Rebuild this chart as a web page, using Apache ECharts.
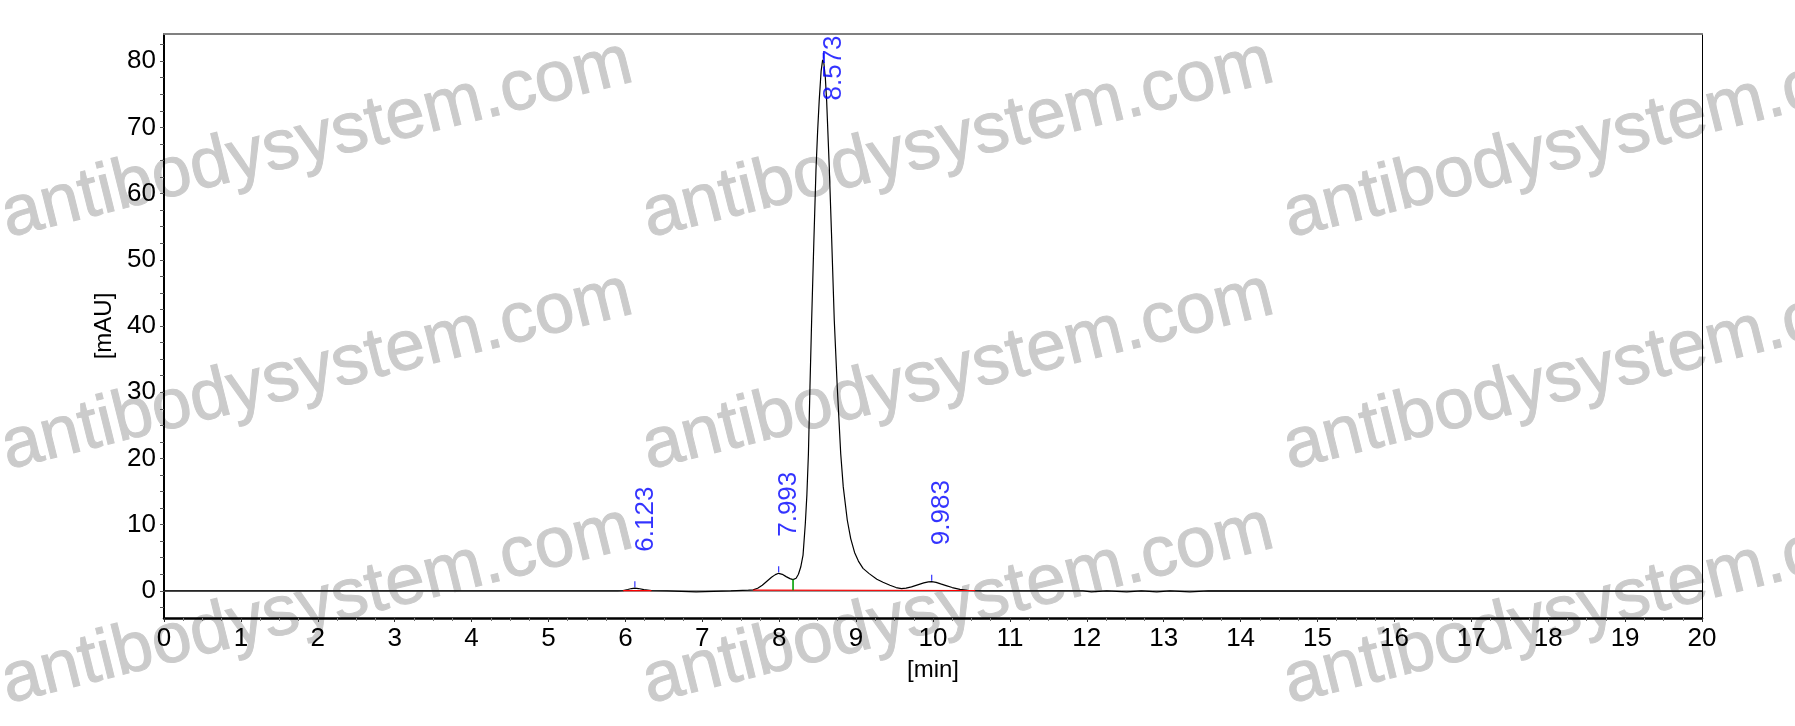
<!DOCTYPE html>
<html>
<head>
<meta charset="utf-8">
<script src="https://cdn.jsdelivr.net/npm/echarts@6/dist/echarts.min.js"></script>
<style>
html,body{margin:0;padding:0;background:#fff;}
#c{width:1795px;height:726px;}
</style>
</head>
<body>
<div id="c"></div>
<script>
// ---- data ----
const times = [
  0, 5.9, 5.97, 6.03, 6.08, 6.123, 6.17, 6.24, 6.34,
  6.54, 6.55, 6.92, 6.93, 7.37, 7.38, 7.6,
  7.66, 7.72, 7.78, 7.84, 7.9, 7.95, 7.993, 8.04, 8.09, 8.14, 8.18,
  8.22, 8.25, 8.28, 8.31, 8.34, 8.36, 8.38, 8.40, 8.422, 8.45, 8.478, 8.50, 8.52, 8.545, 8.565,
  8.58, 8.60, 8.617, 8.651, 8.68, 8.716, 8.755, 8.80, 8.833, 8.885, 8.93, 8.98, 9.03, 9.09, 9.17, 9.27, 9.35, 9.44, 9.52, 9.59,
  9.65, 9.72, 9.80, 9.88, 9.94, 9.983, 10.04, 10.1, 10.17, 10.25, 10.35, 10.45, 10.55, 10.65,
  11.95, 11.96, 12.06, 12.07, 12.26, 12.27, 12.52, 12.53, 12.71, 12.72, 12.91, 12.92, 13.08, 13.09, 13.34, 13.35, 13.58, 13.6, 20
];
const signal = [
  0, 0, 0.03, 0.2, 0.35, 0.4, 0.35, 0.18, 0.03,
  0, -0.15, -0.15, 0, 0, 0.1, 0.1,
  0.15, 0.4, 0.85, 1.45, 2.05, 2.45, 2.65, 2.5, 2.15, 1.85, 1.7,
  1.9, 2.5, 3.6, 5.4, 10.2, 14.5, 20.7, 30.8, 40.9, 52.5, 63.5, 69.5, 74, 78.5, 80.2,
  79.8, 77.5, 74, 64, 54, 40.9, 30.8, 20.7, 15.7, 10.7, 7.9, 5.8, 4.5, 3.4, 2.6, 1.75, 1.3, 0.85, 0.5, 0.35,
  0.4, 0.6, 0.9, 1.2, 1.35, 1.38, 1.28, 1.05, 0.8, 0.5, 0.22, 0.08, 0.02, 0,
  0, -0.15, -0.15, 0, 0, -0.15, -0.15, 0, 0, -0.15, -0.15, 0, 0, -0.15, -0.15, 0, 0, -0.05, -0.05
];
const peakTimes = [6.123, 7.993, 8.573, 9.983];
const peakHeights = [0.4, 2.65, 80.2, 1.38];
const peakLabels = ['6.123', '7.993', '8.573', '9.983'];
const baselineATimes = [5.97, 6.34];
const baselineAValues = [0.03, 0.03];
const baselineBTimes = [7.66, 10.55];
const baselineBValues = [0.1, 0.05];
const dropTimes = [8.18, 8.18];
const dropValues = [0.09, 1.7];
const yLabelValues = [0, 10, 20, 30, 40, 50, 60, 70, 80];
const yTickValues = [-2.5, 0, 2.5, 5, 7.5, 10, 12.5, 15, 17.5, 20, 22.5, 25, 27.5, 30, 32.5, 35, 37.5, 40,
  42.5, 45, 47.5, 50, 52.5, 55, 57.5, 60, 62.5, 65, 67.5, 70, 72.5, 75, 77.5, 80, 82.5];
const xMin = 0, xMax = 20, xStep = 1;
const yMin = -4.1, yMax = 84.1;
const xName = '[min]';
const yName = '[mAU]';
const watermarkText = 'antibodysystem.com';

// ---- chart ----
const FONT = '"Liberation Sans", Arial, sans-serif';
const chart = echarts.init(document.getElementById('c'), null, {renderer: 'canvas'});
const GRID = {left: 164, right: 93, top: 34, bottom: 108};

const pairs = (xs, ys) => xs.map((x, i) => [x, ys[i]]);

const wmCols = [317, 958, 1599];
const wmRows = [140, 372, 606];
const wmElements = [];
wmRows.forEach(y => wmCols.forEach(x => {
  wmElements.push({
    type: 'text', x: x, y: y, rotation: 14 * Math.PI / 180, z: -10, silent: true,
    style: {text: watermarkText, font: '71px ' + FONT, fill: '#cbcbcb', stroke: '#cbcbcb', lineWidth: 1,
      align: 'center', verticalAlign: 'middle'}
  });
}));

function labelData(dys) {
  return peakTimes.map((t, i) => ({
    value: [t, peakHeights[i]],
    name: peakLabels[i],
    label: {position: [11, dys[i]]}
  }));
}

const option = {
  animation: false,
  backgroundColor: '#fff',
  graphic: {z: -10, elements: wmElements},
  grid: Object.assign({containLabel: false}, GRID),
  xAxis: [{
    type: 'value', min: xMin, max: xMax, interval: xStep, position: 'bottom',
    axisLine: {show: true, onZero: false, lineStyle: {color: '#000', width: 2.5}},
    axisTick: {show: true, length: 4, lineStyle: {color: '#333', width: 1}},
    minorTick: {show: true, splitNumber: 4, length: 3, lineStyle: {color: '#777', width: 1}},
    splitLine: {show: false},
    axisLabel: {fontSize: 26, color: '#000', margin: 8, fontFamily: FONT},
    name: xName, nameLocation: 'middle', nameGap: 40,
    nameTextStyle: {fontSize: 24, color: '#000', fontFamily: FONT}
  }, {
    type: 'value', min: xMin, max: xMax, position: 'top',
    axisLine: {show: true, onZero: false, lineStyle: {color: '#808080', width: 2}},
    axisTick: {show: false}, axisLabel: {show: false}, splitLine: {show: false}
  }],
  yAxis: [{
    type: 'value', min: yMin, max: yMax, position: 'left',
    axisLine: {show: true, onZero: false, lineStyle: {color: '#000', width: 2}},
    axisTick: {show: true, length: 4, customValues: yTickValues, lineStyle: {color: '#555', width: 1}},
    splitLine: {show: false},
    axisLabel: {customValues: yLabelValues, fontSize: 26, color: '#000', margin: 8, fontFamily: FONT},
    name: yName, nameLocation: 'middle', nameGap: 46,
    nameTextStyle: {fontSize: 24, color: '#000', fontFamily: FONT}
  }, {
    type: 'value', min: yMin, max: yMax, position: 'right',
    axisLine: {show: true, onZero: false, lineStyle: {color: '#000', width: 1}},
    axisTick: {show: false}, axisLabel: {show: false}, splitLine: {show: false}
  }],
  series: [
    {
      type: 'line', name: 'signal', data: pairs(times, signal), symbol: 'none', z: 5,
      lineStyle: {color: '#000', width: 1.2}, silent: true,
      markLine: {
        silent: true, symbol: 'none', label: {show: false}, z: 3,
        lineStyle: {color: '#777', width: 1.6, type: 'solid'},
        data: [{yAxis: 0}]
      }
    },
    {type: 'line', data: pairs(baselineATimes, baselineAValues), symbol: 'none', z: 6,
      lineStyle: {color: '#ff0000', width: 1.2}, silent: true},
    {type: 'line', data: pairs(baselineBTimes, baselineBValues), symbol: 'none', z: 6,
      lineStyle: {color: '#ff0000', width: 1.2}, silent: true},
    {type: 'line', data: pairs(dropTimes, dropValues), symbol: 'none', z: 6,
      lineStyle: {color: '#00a000', width: 1.6}, silent: true},
    {type: 'scatter', data: pairs(peakTimes, peakHeights), symbol: 'rect', symbolSize: [1.2, 6],
      symbolOffset: [0, -4], itemStyle: {color: '#0000ff'}, z: 7, silent: true},
    {type: 'scatter', id: 'labels', data: labelData(peakTimes.map(() => -36)), symbolSize: 1,
      itemStyle: {color: 'rgba(0,0,0,0)'}, z: 8, silent: true,
      label: {show: true, formatter: p => p.name, rotate: 90, align: 'left', verticalAlign: 'middle',
        fontSize: 26, color: '#0000ff', fontFamily: FONT}}
  ]
};
chart.setOption(option);

// keep peak labels inside the plot (the tall peak label is pushed down)
const LABEL_LEN = 66;
const dys = peakTimes.map((t, i) => {
  const p = chart.convertToPixel({xAxisIndex: 0, yAxisIndex: 0}, [t, peakHeights[i]]);
  let bottom = p[1] - 36;
  if (bottom - LABEL_LEN < GRID.top + 1) bottom = GRID.top + 1 + LABEL_LEN;
  return bottom - p[1];
});
chart.setOption({series: [{id: 'labels', data: labelData(dys)}]});
</script>
</body>
</html>
